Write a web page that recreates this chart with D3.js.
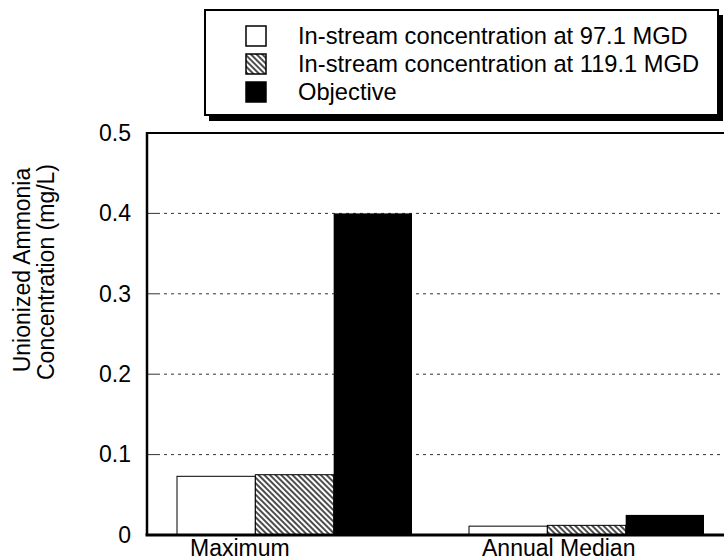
<!DOCTYPE html>
<html>
<head>
<meta charset="utf-8">
<script src="https://cdn.jsdelivr.net/npm/d3@7/dist/d3.min.js"></script>
<style>
  html, body { margin: 0; padding: 0; background: #fff; }
  svg { display: block; font-family: "Liberation Sans", Arial, sans-serif; }
</style>
</head>
<body>
<svg id="chart" width="724" height="560"></svg>
<script>
const categories = ["Maximum", "Annual Median"];
const seriesNames = [
  "In-stream concentration at 97.1 MGD",
  "In-stream concentration at 119.1 MGD",
  "Objective"
];
const flow97 = [0.073, 0.011];
const flow119 = [0.075, 0.012];
const objective = [0.40, 0.025];
const yTicks = [0, 0.1, 0.2, 0.3, 0.4, 0.5];
const yTickLabels = ["0", "0.1", "0.2", "0.3", "0.4", "0.5"];

const seriesValues = [flow97, flow119, objective];
const fills = ["#ffffff", "url(#hatch)", "#000000"];

const svg = d3.select("#chart");
const margin = { left: 147, top: 133, bottom: 25, right: -7 };
const W = 724, H = 560;
const plotL = margin.left, plotR = W - margin.right, plotT = margin.top, plotB = H - margin.bottom;

// hatch pattern
const defs = svg.append("defs");
const pat = defs.append("pattern")
  .attr("id", "hatch").attr("patternUnits", "userSpaceOnUse")
  .attr("width", 4).attr("height", 4)
  .attr("patternTransform", "rotate(45)");
pat.append("rect").attr("width", 4).attr("height", 4).attr("fill", "#fff");
pat.append("line").attr("x1", 0).attr("y1", 1).attr("x2", 4).attr("y2", 1)
  .attr("stroke", "#000").attr("stroke-width", 1.4);

const y = d3.scaleLinear().domain([0, 0.5]).range([plotB, plotT]);
const x0 = d3.scaleBand().domain(categories).range([plotL, plotR]).padding(0);
const x1 = d3.scaleBand().domain(d3.range(seriesNames.length))
  .range([30, 30 + 235]).padding(0);

// gridlines
const inner = yTicks.filter(t => t > 0 && t < 0.5);
const grid = svg.append("g");
grid.selectAll("line.g").data(inner).join("line").attr("class", "g")
  .attr("x1", plotL + 10).attr("x2", plotR)
  .attr("y1", d => y(d)).attr("y2", d => y(d))
  .attr("stroke", "#333").attr("stroke-width", 1)
  .attr("stroke-dasharray", "3,4");
grid.selectAll("line.t").data(inner).join("line").attr("class", "t")
  .attr("x1", plotL).attr("x2", plotL + 10)
  .attr("y1", d => y(d)).attr("y2", d => y(d))
  .attr("stroke", "#333").attr("stroke-width", 1);

// bars
const rows = [];
categories.forEach((c, ci) => {
  seriesValues.forEach((vals, si) => rows.push({ c, si, v: vals[ci] }));
});
svg.append("g").selectAll("rect").data(rows).join("rect")
  .attr("x", d => x0(d.c) + x1(d.si))
  .attr("width", x1.bandwidth())
  .attr("y", d => y(d.v))
  .attr("height", d => y(0) - y(d.v))
  .attr("fill", d => fills[d.si])
  .attr("stroke", d => d.si === 2 ? "none" : "#000")
  .attr("stroke-width", 1);

// frame
svg.append("line").attr("x1", plotL).attr("x2", W).attr("y1", plotT).attr("y2", plotT)
  .attr("stroke", "#000").attr("stroke-width", 2);
svg.append("line").attr("x1", plotL).attr("x2", plotL).attr("y1", plotT - 1).attr("y2", plotB)
  .attr("stroke", "#000").attr("stroke-width", 2.5);
svg.append("line").attr("x1", plotL - 1.5).attr("x2", W).attr("y1", plotB).attr("y2", plotB)
  .attr("stroke", "#000").attr("stroke-width", 3);

// y axis labels
const yAxis = d3.axisLeft(y).tickValues(yTicks)
  .tickFormat((d, i) => yTickLabels[i]).tickSize(0).tickPadding(16);
const gy = svg.append("g").attr("transform", `translate(${plotL},0)`).call(yAxis);
gy.select(".domain").remove();
gy.selectAll("text").attr("font-size", 23).attr("fill", "#000")
  .attr("font-family", "Liberation Sans, Arial, sans-serif");

// x labels
svg.append("g").selectAll("text").data(categories).join("text")
  .attr("x", d => x0(d) + 43)
  .attr("y", 556)
  .attr("font-size", 23).attr("fill", "#000")
  .text(d => d);

// y title
const yt = svg.append("text").attr("transform", "rotate(-90)")
  .attr("font-size", 23).attr("fill", "#000").attr("text-anchor", "middle");
yt.append("tspan").attr("x", -270).attr("y", 30).text("Unionized Ammonia");
yt.append("tspan").attr("x", -272).attr("y", 54).text("Concentration (mg/L)");

// legend
const lg = svg.append("g");
lg.append("rect").attr("x", 209).attr("y", 15).attr("width", 514).attr("height", 106)
  .attr("fill", "#000");
lg.append("rect").attr("x", 205).attr("y", 10).attr("width", 513).attr("height", 105)
  .attr("fill", "#fff").attr("stroke", "#000").attr("stroke-width", 2);
const rowsY = [36, 64, 92];
seriesNames.forEach((s, i) => {
  lg.append("rect").attr("x", 246).attr("y", rowsY[i] - 10).attr("width", 20).attr("height", 20)
    .attr("fill", fills[i]).attr("stroke", "#000").attr("stroke-width", 1.5);
  lg.append("text").attr("x", 298).attr("y", rowsY[i]).attr("dy", "0.35em")
    .attr("font-size", 23.7).attr("fill", "#000").text(s);
});
</script>
</body>
</html>
